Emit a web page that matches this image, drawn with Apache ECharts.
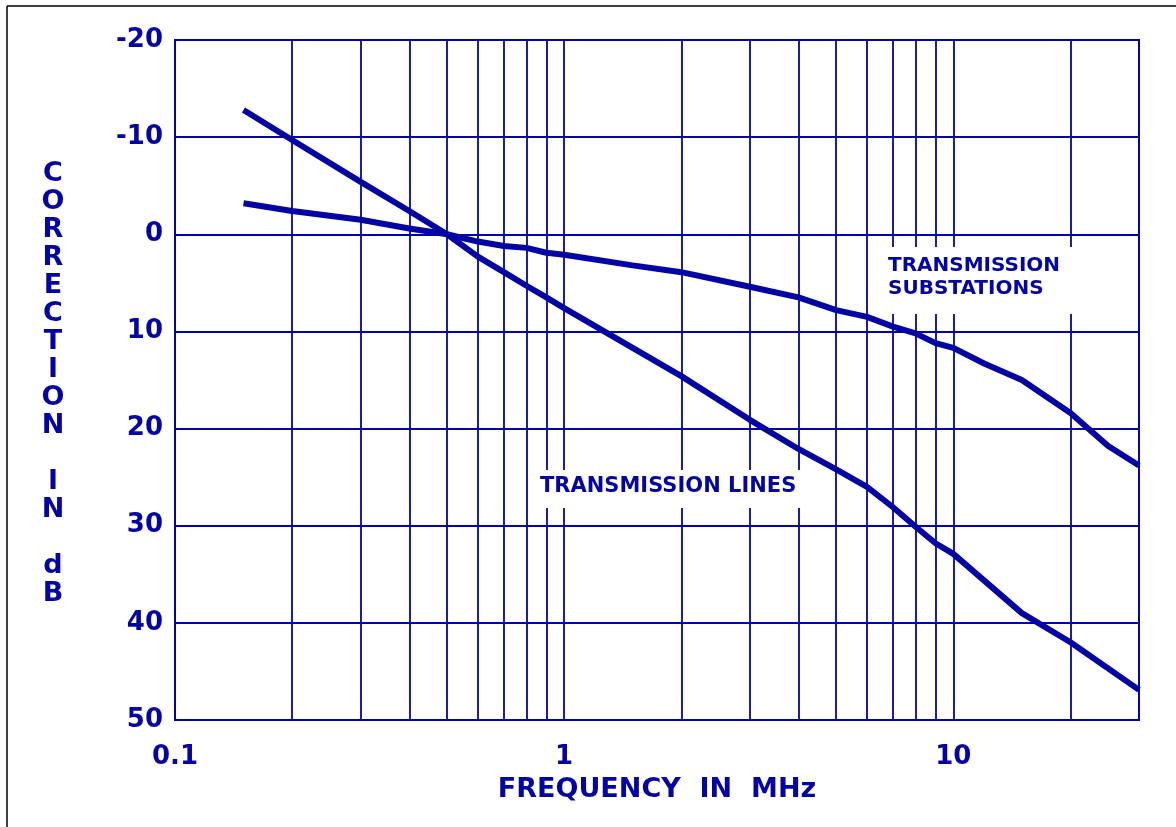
<!DOCTYPE html>
<html>
<head>
<meta charset="utf-8">
<script src="https://cdn.jsdelivr.net/npm/echarts@6/dist/echarts.min.js"></script>
<style>
  html, body { margin: 0; padding: 0; background: #fff; }
  #chart { width: 1176px; height: 827px; }
</style>
</head>
<body>
<div id="chart"></div>
<script>
// frequency in MHz, correction in dB (positive = down)
const lineFreqs = [0.15, 0.2, 0.3, 0.4, 0.5, 0.6, 0.7, 0.8, 0.9, 1, 2, 3, 4, 5, 6, 7, 8, 9, 10, 15, 20, 30]
const lineValues = [-12.8, -9.7, -5.4, -2.4, 0, 2.3, 3.9, 5.3, 6.5, 7.6, 14.6, 19.1, 22.1, 24.2, 26.0, 28.1, 30.1, 31.8, 32.9, 39.0, 42.0, 46.9]

const subFreqs = [0.15, 0.2, 0.3, 0.4, 0.5, 0.6, 0.7, 0.8, 0.9, 1, 1.5, 2, 3, 4, 5, 6, 7, 8, 9, 10, 12, 15, 20, 25, 30]
const subValues = [-3.2, -2.4, -1.5, -0.6, 0, 0.75, 1.2, 1.4, 1.9, 2.1, 3.2, 3.9, 5.4, 6.5, 7.8, 8.5, 9.5, 10.2, 11.2, 11.7, 13.3, 15.0, 18.4, 21.8, 23.8]

// vertical grid lines of the log paper
const gridFreqs = [0.2, 0.3, 0.4, 0.5, 0.6, 0.7, 0.8, 0.9, 1, 2, 3, 4, 5, 6, 7, 8, 9, 10, 20]

const BLUE = '#0404a4'
const FONT = 'DejaVu Sans'

const chart = echarts.init(document.getElementById('chart'))

const toPairs = (xs, ys) => xs.map((x, i) => [x, ys[i]])

const option = {
  animation: false,
  backgroundColor: '#fff',
  grid: {
    left: 175,
    top: 40,
    right: 37,
    bottom: 107,
    show: true,
    borderColor: BLUE,
    borderWidth: 2
  },
  xAxis: {
    type: 'log',
    logBase: 10,
    min: 0.1,
    max: 30,
    axisLine: { show: false },
    axisTick: { show: false },
    splitLine: { show: false },
    axisLabel: {
      color: BLUE,
      fontFamily: FONT,
      fontWeight: 'bold',
      fontSize: 26,
      margin: 24,
      showMaxLabel: false,
      formatter: v => {
        const lg = Math.log10(v)
        if (Math.abs(lg - Math.round(lg)) > 1e-6) return ''
        return String(+v.toPrecision(3))
      }
    }
  },
  yAxis: {
    type: 'value',
    inverse: true,
    min: -20,
    max: 50,
    interval: 10,
    axisLine: { show: false },
    axisTick: { show: false },
    axisLabel: {
      color: BLUE,
      fontFamily: FONT,
      fontWeight: 'bold',
      fontSize: 26,
      margin: 12
    },
    splitLine: { lineStyle: { color: BLUE, width: 1.8 } }
  },
  series: [
    {
      // carries the vertical grid lines only
      type: 'line',
      z: 1,
      data: [],
      markLine: {
        z: 1,
        silent: true,
        symbol: 'none',
        label: { show: false },
        lineStyle: { color: BLUE, width: 1.8, type: 'solid' },
        data: gridFreqs.map(f => ({ xAxis: f }))
      }
    },
    {
      name: 'TRANSMISSION LINES',
      type: 'line',
      z: 3,
      showSymbol: false,
      lineStyle: { color: BLUE, width: 6 },
      data: toPairs(lineFreqs, lineValues)
    },
    {
      name: 'TRANSMISSION SUBSTATIONS',
      type: 'line',
      z: 3,
      showSymbol: false,
      lineStyle: { color: BLUE, width: 6 },
      data: toPairs(subFreqs, subValues)
    }
  ],
  graphic: [
    // page frame (top and left only)
    { type: 'line', z: 5, shape: { x1: 7, y1: 6, x2: 1176, y2: 6 }, style: { stroke: '#000', lineWidth: 1.5 } },
    { type: 'line', z: 5, shape: { x1: 7, y1: 6, x2: 7, y2: 827 }, style: { stroke: '#000', lineWidth: 1.5 } },
    // white boxes behind the curve labels
    { type: 'rect', z: 2, shape: { x: 876, y: 247, width: 202, height: 67 }, style: { fill: '#fff' } },
    { type: 'rect', z: 2, shape: { x: 535, y: 470, width: 271, height: 38 }, style: { fill: '#fff' } },
    {
      type: 'text', z: 4, x: 888, y: 277.5,
      style: {
        text: 'TRANSMISSION\nSUBSTATIONS',
        fill: BLUE, font: 'bold 20px "DejaVu Sans"',
        textAlign: 'left', textVerticalAlign: 'middle', lineHeight: 23
      }
    },
    {
      type: 'text', z: 4, x: 540, y: 487,
      style: {
        text: 'TRANSMISSION LINES',
        fill: BLUE, font: 'bold 21px "DejaVu Sans"',
        textAlign: 'left', textVerticalAlign: 'middle'
      }
    },
    {
      type: 'text', z: 4, x: 53, y: 384,
      style: {
        text: 'C\nO\nR\nR\nE\nC\nT\nI\nO\nN\n\nI\nN\n\nd\nB',
        fill: BLUE, font: 'bold 27px "DejaVu Sans"',
        textAlign: 'center', textVerticalAlign: 'middle', lineHeight: 28
      }
    },
    {
      type: 'text', z: 4, x: 657, y: 790,
      style: {
        text: 'FREQUENCY  IN  MHz',
        fill: BLUE, font: 'bold 27px "DejaVu Sans"',
        textAlign: 'center', textVerticalAlign: 'middle'
      }
    }
  ]
}

chart.setOption(option)
</script>
</body>
</html>
